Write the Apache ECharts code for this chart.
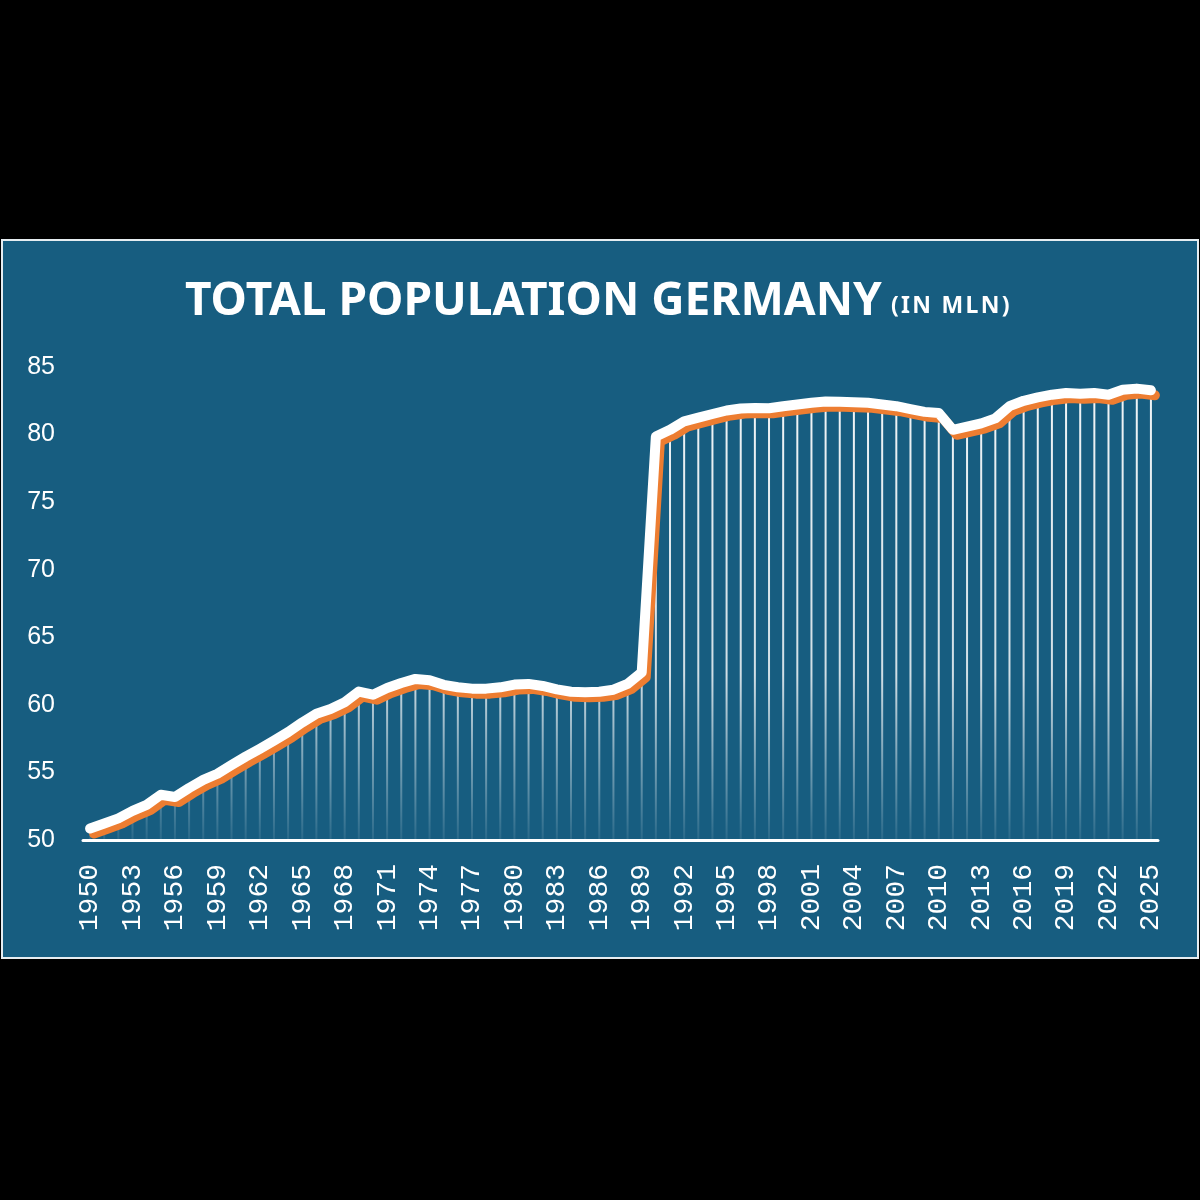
<!DOCTYPE html>
<html>
<head>
<meta charset="utf-8">
<title>Total population Germany</title>
<script src="https://cdn.jsdelivr.net/npm/echarts@6/dist/echarts.min.js"></script>
<style>
  html, body { margin: 0; padding: 0; background: #000; }
  #main { width: 1200px; height: 1200px; }
</style>
</head>
<body>
<div id="main"></div>
<script>
// years 1950..2025, population in millions
var years = [];
for (var y = 1950; y <= 2025; y++) years.push(String(y));

var population = [
  50.85, 51.22, 51.6, 52.15, 52.6, 53.35, 53.18, 53.85, 54.45, 54.9,
  55.55, 56.17, 56.75, 57.35, 57.98, 58.7, 59.35, 59.7, 60.2, 60.98,
  60.75, 61.25, 61.62, 61.92, 61.82, 61.48, 61.3, 61.2, 61.2, 61.3,
  61.5, 61.55, 61.4, 61.15, 60.97, 60.93, 60.97, 61.12, 61.55, 62.4,
  79.85, 80.35, 80.98, 81.25, 81.52, 81.78, 81.93, 81.97, 81.95, 82.1,
  82.22, 82.35, 82.45, 82.42, 82.4, 82.35, 82.23, 82.1, 81.88, 81.68,
  81.6, 80.35, 80.58, 80.83, 81.2, 82.1, 82.5, 82.75, 82.95, 83.08,
  83.02, 83.08, 82.95, 83.32, 83.4, 83.28
];

var yTicks = [50, 55, 60, 65, 70, 75, 80, 85];

var dom = document.getElementById('main');
var myChart = echarts.init(dom, null, { renderer: 'canvas' });

var option = {
  backgroundColor: '#000',
  animation: false,
  graphic: [
    {
      type: 'rect',
      z: -10,
      shape: { x: 2, y: 240, width: 1196, height: 718 },
      style: { fill: '#175d80', stroke: '#e6edf1', lineWidth: 2 }
    }
  ],
  title: [
    {
      left: 180,
      top: 274,
      text: 'TOTAL POPULATION GERMANY',
      textStyle: {
        color: '#fff',
        fontFamily: 'Noto Sans',
        fontWeight: 'bold',
        fontSize: 46
      }
    },
    {
      left: 886,
      top: 290,
      // hair spaces mimic the letter spacing of the original
      text: '(\u200aI\u200aN\u200a \u200aM\u200aL\u200aN\u200a)',
      textStyle: {
        color: '#fff',
        fontFamily: 'Noto Sans',
        fontWeight: 'bold',
        fontSize: 23
      }
    }
  ],
  grid: {
    left: 83,
    right: 42,
    top: 367,
    bottom: 360,
    outerBoundsMode: 'none'
  },
  xAxis: {
    type: 'category',
    data: years,
    boundaryGap: true,
    axisLine: { show: true, lineStyle: { color: '#fff', width: 3 } },
    axisTick: { show: false },
    axisLabel: {
      interval: 2,
      rotate: 90,
      margin: 24,
      color: '#fff',
      fontFamily: 'Liberation Mono',
      fontSize: 28
    },
    splitLine: { show: false }
  },
  yAxis: {
    type: 'value',
    min: yTicks[0],
    max: yTicks[yTicks.length - 1],
    interval: 5,
    axisLine: { show: false },
    axisTick: { show: false },
    splitLine: { show: false },
    axisLabel: {
      margin: 28,
      color: '#fff',
      fontFamily: 'Liberation Sans',
      fontSize: 25
    }
  },
  series: [
    {
      type: 'bar',
      data: population,
      barWidth: 2,
      z: 1,
      itemStyle: {
        color: {
          type: 'linear',
          x: 0, y: 367, x2: 0, y2: 840,
          global: true,
          colorStops: [
            { offset: 0, color: 'rgba(255,255,255,0.95)' },
            { offset: 0.65, color: 'rgba(255,255,255,0.8)' },
            { offset: 1, color: 'rgba(255,255,255,0.08)' }
          ]
        }
      }
    },
    {
      type: 'line',
      data: population,
      z: 3,
      clip: false,
      showSymbol: false,
      symbol: 'none',
      lineStyle: {
        color: '#ffffff',
        width: 10,
        cap: 'round',
        join: 'round',
        shadowColor: '#ed7d31',
        shadowBlur: 0,
        shadowOffsetX: 4,
        shadowOffsetY: 5
      }
    }
  ]
};

if (option && typeof option === 'object') {
  myChart.setOption(option);
}

window.onresize = function () {
  myChart.resize();
};
</script>
</body>
</html>
